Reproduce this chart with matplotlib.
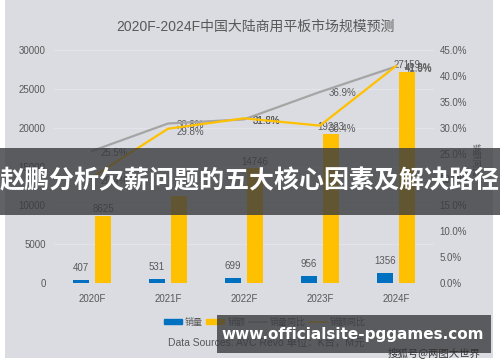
import matplotlib
matplotlib.use('Agg')
import matplotlib.pyplot as plt
import numpy as np
from matplotlib.patches import Rectangle

plt.rcParams['font.family'] = ['Liberation Sans', 'Noto Sans CJK SC', 'DejaVu Sans']

# data
years = ['2020F', '2021F', '2022F', '2023F', '2024F']
sales_vol = [407, 531, 699, 956, 1356]          # 销量 (K台)
sales_amt = [8625, 11200, 14746, 19223, 27159]  # 销额 (M元)
vol_yoy = [25.5, 30.8, 31.6, 36.9, 41.8]        # 销量同比 (%)
amt_yoy = [20.4, 29.8, 31.8, 30.4, 41.9]        # 销额同比 (%)
amt_labels = ['8625', '', '14746', '19223', '27159']

bg = '#dbdce1'
txt = '#595959'
blue = '#0070c0'
gold = '#ffc000'
gray = '#a5a5a5'

fig = plt.figure(figsize=(5, 3.62), dpi=100)
fig.patch.set_facecolor('white')
fig.patches.append(Rectangle((0.01, 0.01), 0.976, 0.99, transform=fig.transFigure,
                             facecolor=bg, edgecolor='none', zorder=-5))

ax = fig.add_axes([0.108, 0.218, 0.76, 0.644])
ax.set_facecolor(bg)
x = np.arange(len(years))
w = 0.21
ax.bar(x - 0.145, sales_vol, w, color=blue, zorder=3)
ax.bar(x + 0.145, sales_amt, w, color=gold, zorder=3)
for i in range(len(years)):
    ax.text(x[i] - 0.145, sales_vol[i] + 900, str(sales_vol[i]), ha='center', va='bottom',
            fontsize=7, color=txt)
    if amt_labels[i]:
        ax.text(x[i] + 0.145, sales_amt[i] + 250, amt_labels[i], ha='center', va='bottom',
                fontsize=7, color=txt)
ax.set_ylim(0, 30000)
ax.set_xlim(-0.5, 4.5)
ax.set_yticks(range(0, 30001, 5000))
ax.set_xticks(x)
ax.set_xticklabels(years)
ax.tick_params(length=0, labelsize=7, colors=txt)
ax.tick_params(axis='y', pad=6)
ax.tick_params(axis='x', pad=8)
ax.grid(axis='y', color='#e4e4e8', linewidth=0.8, zorder=0)
for s in ax.spines.values():
    s.set_visible(False)

ax2 = ax.twinx()
ax2.plot(x, vol_yoy, color=gray, linewidth=1.6, zorder=4)
ax2.plot(x, amt_yoy, color=gold, linewidth=1.6, zorder=4)
for i in range(len(years)):
    ax2.text(x[i] + 0.3, vol_yoy[i] - 0.3, f'{vol_yoy[i]:.1f}%', ha='center', va='center',
             fontsize=7, color=txt)
    ax2.text(x[i] + 0.3, amt_yoy[i] - 0.6, f'{amt_yoy[i]:.1f}%', ha='center', va='center',
             fontsize=7, color=txt)
ax2.set_ylim(0, 45)
ax2.set_yticks(range(0, 46, 5))
ax2.set_yticklabels([f'{v:.1f}%' for v in range(0, 46, 5)])
ax2.tick_params(length=0, labelsize=7, colors=txt, pad=4)
for s in ax2.spines.values():
    s.set_visible(False)
fig.text(0.95, 0.56, '销额同比', rotation=270, fontsize=6, color=txt, ha='center', va='center')

fig.text(0.51, 0.925, '2020F-2024F中国大陆商用平板市场规模预测', ha='center', va='center',
         fontsize=10, color=txt)

# legend
items = [('patch', blue, '销量'), ('patch', gold, '销额'),
         ('line', gray, '销量同比'), ('line', gold, '销额同比')]
handles = []
for kind, c, lab in items:
    if kind == 'patch':
        handles.append(plt.Rectangle((0, 0), 1, 1, color=c, label=lab))
    else:
        handles.append(plt.Line2D([0], [0], color=c, linewidth=1.2, label=lab))
fig.legend(handles=handles, loc='center', bbox_to_anchor=(0.53, 0.11), ncol=4, frameon=False,
           fontsize=6.5, handlelength=2.0, handleheight=0.5, columnspacing=0.4, handletextpad=0.3,
           labelcolor=txt)
fig.text(0.336, 0.052, 'Data Sources: AVC Revo 单位：K台，M元', ha='left', va='center',
         fontsize=7.5, color=txt)

# overlay banner
fig.patches.append(Rectangle((0, 0.406), 1, 0.185, transform=fig.transFigure,
                             facecolor='#3a3b3f', alpha=0.8, edgecolor='none', zorder=10))
fig.text(0.5, 0.499, '赵鹏分析欠薪问题的五大核心因素及解决路径', ha='center', va='center',
         fontsize=18, fontweight='bold', color='white', family=['Noto Sans CJK SC'], zorder=11)

# watermark
fig.patches.append(Rectangle((0.434, 0.025), 0.548, 0.105, transform=fig.transFigure,
                             facecolor='#3a3b3f', alpha=0.8, edgecolor='none', zorder=10))
fig.text(0.706, 0.075, 'www.officialsite-pggames.com', ha='center', va='center',
         fontsize=11, fontweight='bold', color='white', family=['DejaVu Sans'], zorder=11)
fig.text(0.96, 0.027, '搜狐号@两图大世界', ha='right', va='center',
         fontsize=7.5, color='#333333', family=['Noto Sans CJK SC'], zorder=11)

fig.savefig('out.png', dpi=100, facecolor=fig.get_facecolor())
